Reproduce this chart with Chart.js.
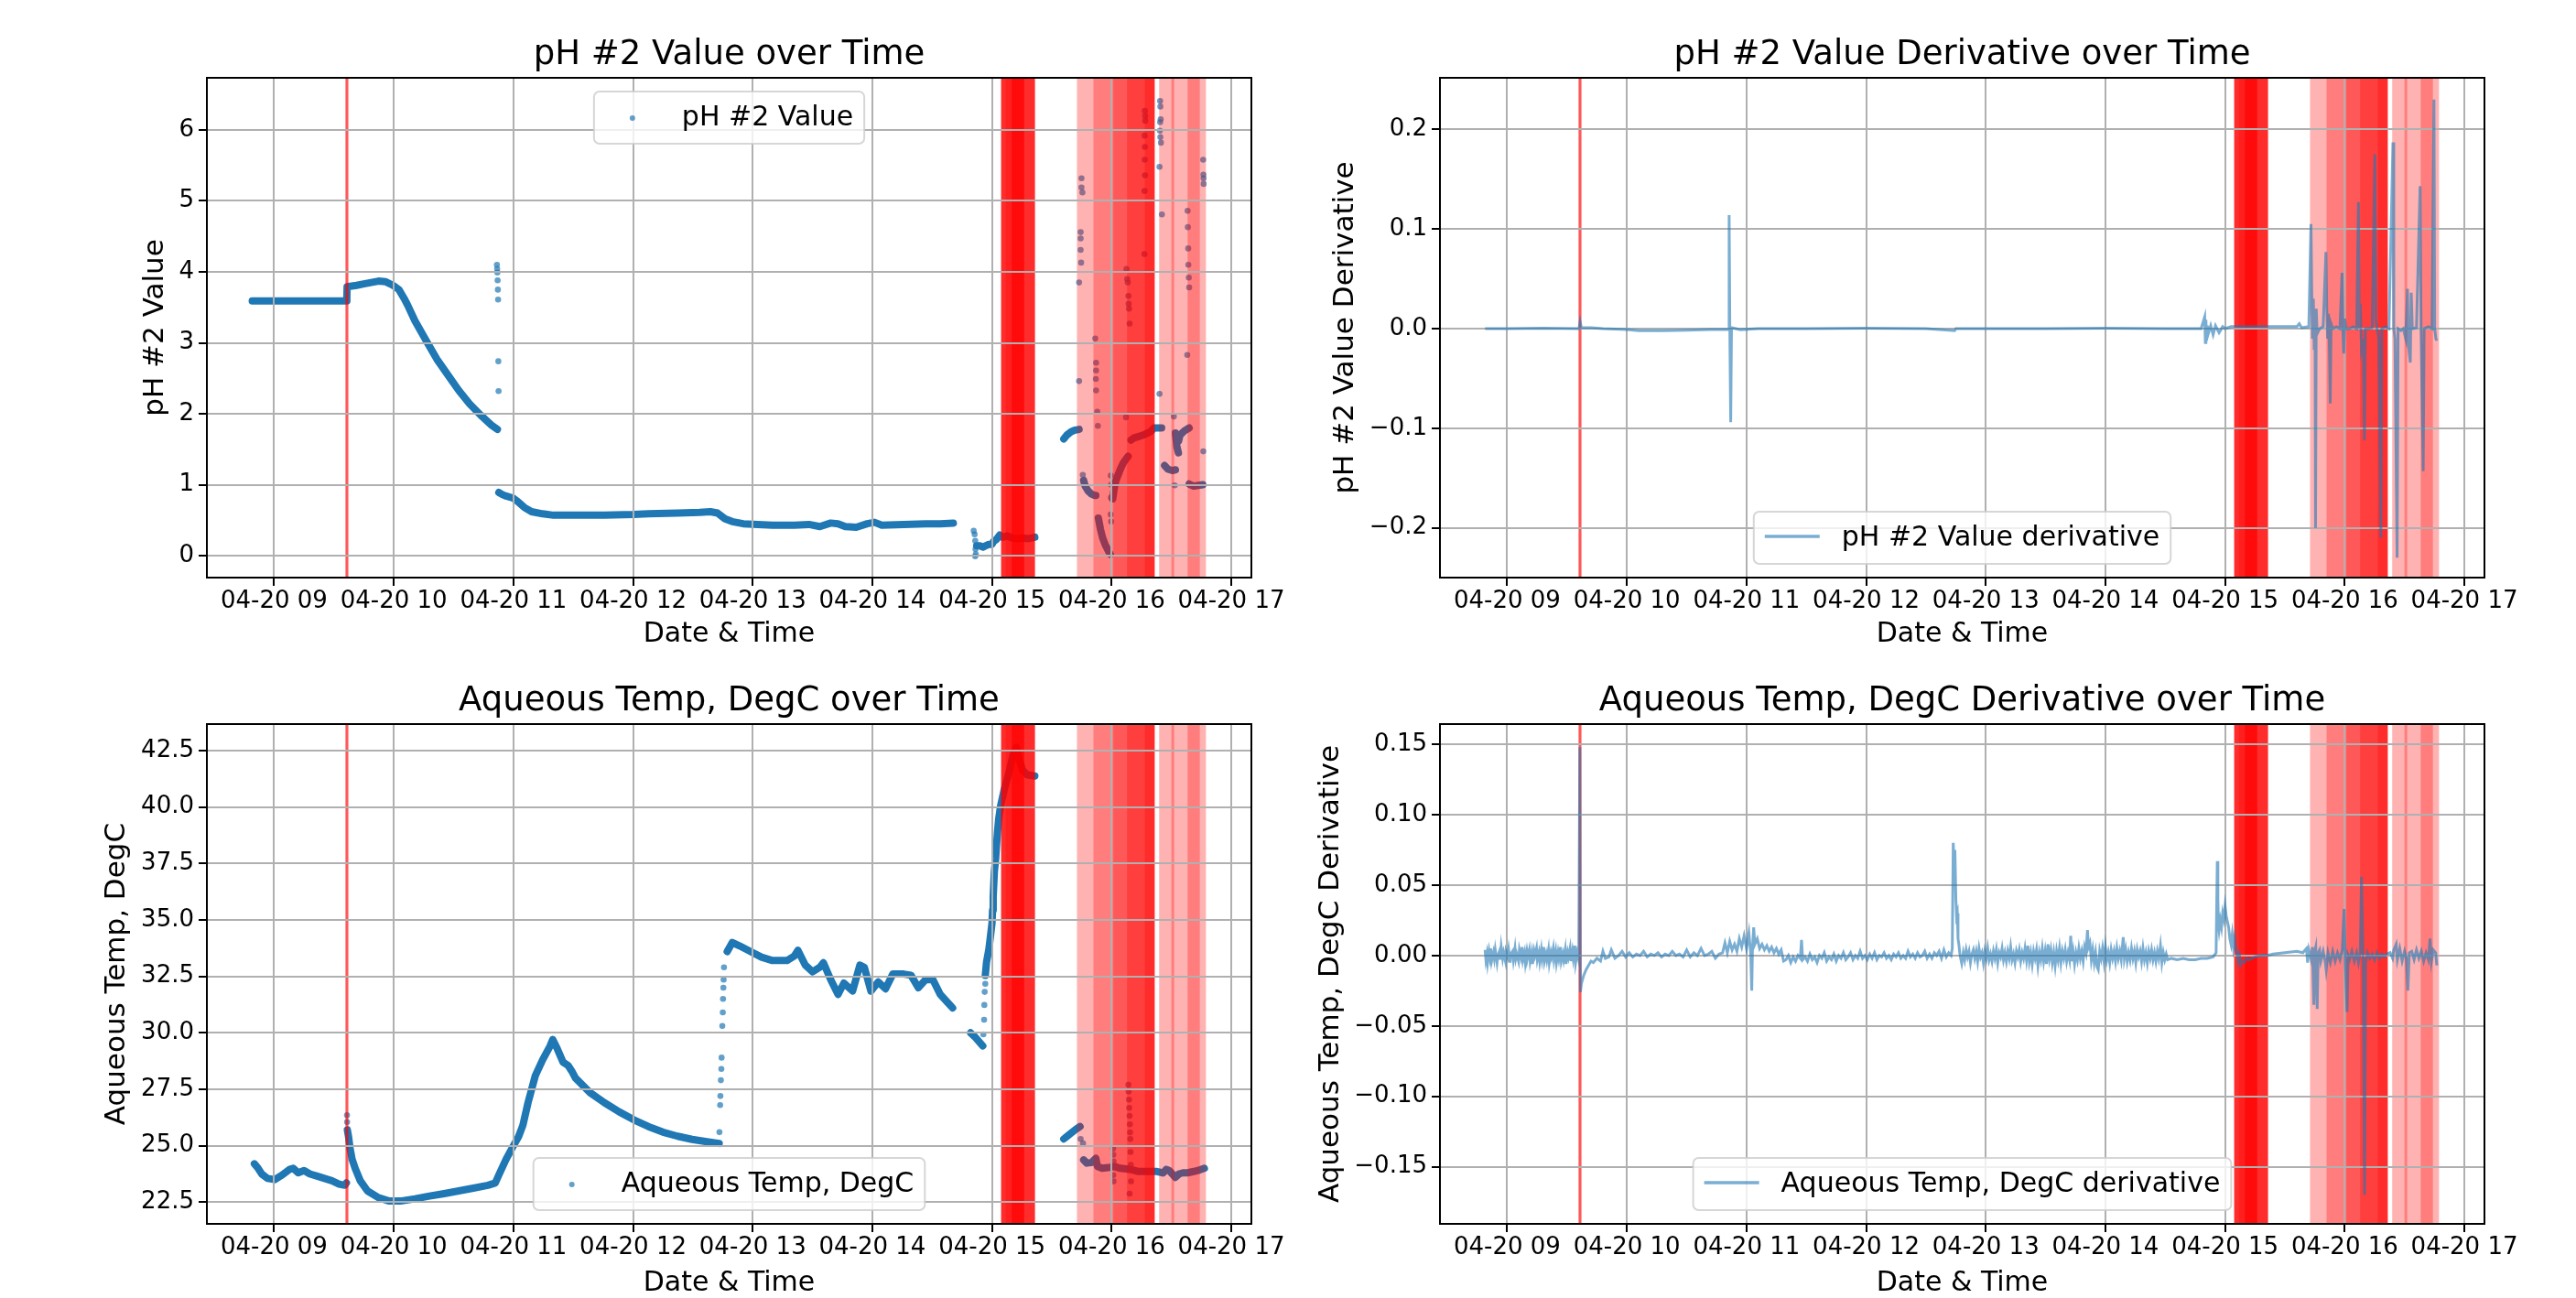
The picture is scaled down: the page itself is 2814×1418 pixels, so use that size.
<!DOCTYPE html>
<html><head><meta charset="utf-8">
<script src="https://cdn.jsdelivr.net/npm/chart.js@4.4.1/dist/chart.umd.min.js"></script>
<style>
html,body{margin:0;padding:0;background:#fff;overflow:hidden;width:2814px;height:1418px;}
canvas{position:absolute;}
</style></head><body>
<canvas id="c1"></canvas><canvas id="c2"></canvas><canvas id="c3"></canvas><canvas id="c4"></canvas>
<script>
// ---------- axis ranges & ticks (hours of 04-20) ----------
const xMin = 8.438, xMax = 17.168;
const xTickHours = [9, 10, 11, 12, 13, 14, 15, 16, 17];
const xTickLabels = ['04-20 09','04-20 10','04-20 11','04-20 12','04-20 13','04-20 14','04-20 15','04-20 16','04-20 17'];
const phTicks = [0, 1, 2, 3, 4, 5, 6];
const phTickLabels = ['0','1','2','3','4','5','6'];
const phDerivTicks = [-0.2, -0.1, 0, 0.1, 0.2];
const phDerivTickLabels = ['\u22120.2','\u22120.1','0.0','0.1','0.2'];
const tempTicks = [22.5, 25, 27.5, 30, 32.5, 35, 37.5, 40, 42.5];
const tempTickLabels = ['22.5','25.0','27.5','30.0','32.5','35.0','37.5','40.0','42.5'];
const tempDerivTicks = [-0.15, -0.1, -0.05, 0, 0.05, 0.1, 0.15];
const tempDerivTickLabels = ['\u22120.15','\u22120.10','\u22120.05','0.00','0.05','0.10','0.15'];

// ---------- anomaly spans [start hour, end hour] ----------
const anomalySpans = [
  [9.606, 9.609], [9.607, 9.610], [9.608, 9.611],
  [15.077, 15.358], [15.077, 15.358], [15.077, 15.358], [15.077, 15.358], [15.077, 15.358],
  [15.115, 15.268], [15.166, 15.268], [15.166, 15.268], [15.166, 15.268],
  [15.710, 16.359], [15.848, 16.359], [16.014, 16.359], [16.129, 16.359], [16.277, 16.359],
  [16.397, 16.788], [16.502, 16.520], [16.635, 16.737]
];

// ---------- pH #2 value: dense runs (null = break) and isolated points ----------
const phBand = [
  [8.817,3.59],[9.0,3.59],[9.2,3.59],[9.4,3.59],[9.605,3.59],[9.608,3.65],[9.61,3.79],[9.689,3.81],[9.75,3.83],[9.811,3.85],[9.872,3.87],[9.933,3.86],
  [9.994,3.81],[10.043,3.75],[10.085,3.63],[10.116,3.53],[10.177,3.31],[10.268,3.04],[10.36,2.77],[10.451,2.55],[10.543,2.33],[10.634,2.14],
  [10.726,1.98],[10.817,1.84],[10.866,1.78],
  null,
  [10.878,0.89],[10.909,0.86],[10.939,0.84],[11.0,0.81],[11.03,0.77],[11.091,0.68],[11.152,0.62],[11.244,0.59],[11.335,0.57],[11.518,0.57],
  [11.762,0.57],[12.006,0.58],[12.128,0.59],[12.372,0.60],[12.555,0.61],[12.646,0.62],[12.707,0.60],[12.768,0.52],[12.829,0.48],[12.921,0.45],
  [13.165,0.43],[13.348,0.43],[13.47,0.44],[13.561,0.41],[13.652,0.46],[13.713,0.45],[13.774,0.41],[13.866,0.40],[13.957,0.45],[14.018,0.47],
  [14.079,0.43],[14.262,0.44],[14.445,0.45],[14.567,0.45],[14.677,0.46],
  null,
  [14.872,0.14],[14.898,0.14],[14.923,0.12],[14.949,0.14],[14.974,0.16],[15.0,0.16],[15.013,0.20],[15.038,0.23],[15.064,0.29],[15.089,0.26],
  [15.128,0.28],[15.166,0.25],[15.204,0.24],[15.255,0.25],[15.307,0.24],[15.358,0.26],
  null,
  [15.600,1.645],[15.626,1.70],[15.664,1.75],[15.695,1.77],[15.728,1.78],
  null,
  [15.766,1.06],[15.779,0.98],[15.805,0.91],[15.83,0.87],[15.856,0.85],[15.868,0.85],
  null,
  [15.889,0.53],[15.907,0.37],[15.925,0.25],[15.945,0.16],[15.971,0.07],[15.989,0.02],
  null,
  [16.009,0.80],[16.022,0.95],[16.034,1.05],[16.052,1.13],[16.073,1.22],[16.098,1.31],[16.124,1.37],[16.137,1.40],
  null,
  [16.162,1.63],[16.188,1.66],[16.226,1.68],[16.264,1.70],[16.303,1.73],[16.328,1.75],[16.354,1.80],[16.392,1.80],[16.418,1.80],
  null,
  [16.443,1.27],[16.469,1.22],[16.507,1.20],[16.533,1.21],
  null,
  [16.533,1.73],[16.545,1.54],[16.558,1.45],
  null,
  [16.56,1.62],[16.571,1.70],[16.609,1.76],[16.648,1.80],
  null,
  [16.648,1.01],[16.686,0.98],[16.724,0.99],[16.762,1.00]
];
const phDots = [
  [10.862,4.10],[10.864,4.04],[10.866,3.99],[10.868,3.88],[10.870,3.75],[10.872,3.61],[10.874,2.74],[10.876,2.32],
  [14.847,0.35],[14.855,0.30],[14.86,0.21],[14.862,0.09],[14.865,0.02],[14.86,-0.01],
  [15.748,5.32],[15.748,5.19],[15.756,5.12],[15.741,4.56],[15.741,4.47],[15.741,4.31],[15.745,4.13],[15.728,3.85],[15.728,2.46],[15.759,1.14],
  [15.863,3.06],[15.87,2.72],[15.87,2.61],[15.868,2.49],[15.87,2.33],[15.88,2.03],[15.885,1.83],
  [15.993,1.13],[15.995,1.00],[15.994,0.82],[15.992,0.58],[15.996,0.48],
  [16.124,4.04],[16.13,3.90],[16.135,3.85],[16.14,3.66],[16.142,3.55],[16.145,3.48],[16.15,3.27],[16.12,1.95],
  [16.277,6.27],[16.28,6.20],[16.281,6.13],[16.276,5.92],[16.278,5.76],[16.277,5.58],[16.279,5.36],[16.275,5.14],[16.274,4.25],
  [16.405,6.41],[16.407,6.33],[16.41,6.15],[16.405,6.11],[16.403,5.99],[16.407,5.90],[16.412,5.82],[16.40,5.48],[16.42,4.81],[16.40,2.28],
  [16.52,1.96],[16.527,0.99],
  [16.635,4.86],[16.637,4.63],[16.64,4.33],[16.641,4.10],[16.645,3.92],[16.648,3.78],[16.632,2.83],
  [16.765,5.58],[16.767,5.37],[16.768,5.32],[16.769,5.24],[16.766,1.47]
];

// ---------- Aqueous Temp, DegC ----------
const tempBand = [
  [8.835,24.2],[8.866,24.0],[8.896,23.75],[8.945,23.55],[9.006,23.5],[9.067,23.7],[9.128,23.95],[9.159,24.0],[9.201,23.8],[9.25,23.9],
  [9.299,23.75],[9.36,23.65],[9.421,23.55],[9.482,23.45],[9.543,23.3],[9.591,23.25],[9.604,23.35],
  null,
  [9.612,25.7],[9.622,25.4],[9.634,24.9],[9.652,24.4],[9.677,24.0],[9.72,23.45],[9.78,23.0],[9.872,22.7],[9.963,22.55],[10.055,22.55],
  [10.177,22.65],[10.299,22.77],[10.421,22.88],[10.543,23.0],[10.665,23.12],[10.787,23.25],[10.848,23.35],[10.878,23.7],[10.939,24.4],
  [11.0,25.0],[11.043,25.4],[11.079,25.9],[11.122,26.9],[11.183,28.1],[11.244,28.8],[11.305,29.4],[11.329,29.7],[11.366,29.3],[11.415,28.7],
  [11.457,28.55],[11.488,28.3],[11.518,28.0],[11.64,27.35],[11.762,26.9],[11.884,26.5],[12.006,26.15],[12.128,25.85],[12.25,25.6],
  [12.372,25.42],[12.494,25.28],[12.616,25.18],[12.72,25.1],
  null,
  [12.787,33.6],[12.829,34.0],[12.89,33.85],[12.982,33.6],[13.073,33.35],[13.165,33.2],[13.287,33.2],[13.348,33.4],[13.378,33.65],[13.439,33.0],
  [13.5,32.7],[13.561,32.9],[13.591,33.1],[13.652,32.35],[13.713,31.7],[13.762,32.2],[13.835,31.85],[13.896,33.0],[13.933,32.9],[13.988,31.85],
  [14.049,32.25],[14.11,31.95],[14.171,32.6],[14.262,32.6],[14.323,32.55],[14.384,32.0],[14.445,32.35],[14.506,32.35],[14.567,31.7],
  [14.628,31.35],[14.671,31.1],
  null,
  [14.821,30.0],[14.86,29.8],[14.898,29.57],[14.923,29.42],
  null,
  [14.944,32.54],[14.954,33.12],[14.974,33.7],[14.987,34.27],[15.0,34.85],[15.005,35.43],[15.01,36.0],[15.015,36.58],[15.02,37.15],[15.031,37.73],
  [15.038,38.31],[15.046,38.89],[15.056,39.47],[15.072,40.05],[15.102,40.77],[15.14,41.49],[15.179,42.36],[15.204,42.64],[15.23,42.07],
  [15.255,41.63],[15.294,41.42],[15.358,41.37],
  null,
  [15.6,25.3],[15.651,25.52],[15.702,25.73],[15.736,25.85],
  null,
  [15.766,24.37],[15.792,24.23],[15.83,24.25],[15.868,24.44],[15.881,24.08],[15.92,24.0],[15.971,24.03],[16.022,24.08],[16.073,24.0],
  [16.124,23.97],[16.175,23.93],[16.226,23.86],[16.328,23.86],[16.379,23.86],[16.43,23.79],[16.456,23.95],[16.481,23.9],[16.533,23.6],
  [16.563,23.75],[16.596,23.8],[16.635,23.8],[16.686,23.86],[16.737,23.93],[16.775,24.0]
];
const tempDots = [
  [9.609,26.35],[9.61,26.05],
  [12.722,25.6],[12.728,26.8],[12.73,27.2],[12.734,27.9],[12.738,28.4],[12.74,28.9],[12.746,30.3],[12.75,30.9],[12.752,31.5],[12.755,32.0],[12.757,32.35],[12.76,32.9],
  [14.928,29.93],[14.934,30.58],[14.936,31.23],[14.939,31.81],[14.944,32.17],
  [15.741,25.3],[15.761,25.1],
  [16.012,24.87],[16.014,24.6],[16.016,24.3],[16.014,23.7],[16.016,23.42],
  [16.14,27.7],[16.142,27.4],[16.145,27.04],[16.147,26.68],[16.15,26.32],[16.152,25.95],[16.154,25.59],[16.156,25.3],[16.158,24.72],[16.16,24.15],[16.162,23.42],[16.15,22.88]
];

// ---------- pH #2 Value derivative ----------
const phDeriv = [
  [8.815,0],[9.0,0],[9.3,0.0005],[9.6,0],[9.609,0.007],[9.62,0.001],[9.7,0.001],[9.8,0],[9.9,-0.0005],[10.0,-0.001],[10.1,-0.002],[10.3,-0.002],
  [10.5,-0.0015],[10.7,-0.001],[10.85,-0.001],[10.855,0.114],[10.862,-0.02],[10.868,-0.094],[10.875,0.001],[10.95,-0.001],[11.1,0],[11.5,0],
  [12.0,0.0005],[12.5,0],[12.74,-0.002],[12.75,0],[13.0,0],[13.5,0],[14.0,0.0005],[14.5,0],[14.8,0],[14.83,0.012],[14.835,-0.014],[14.84,0.009],
  [14.846,-0.012],[14.852,0.003],[14.86,-0.005],[14.88,0.003],[14.9,-0.006],[14.92,0.003],[14.95,-0.004],[14.98,0.002],[15.0,0],[15.05,0.002],
  [15.3,0.002],[15.6,0.002],[15.62,0.005],[15.64,0.001],[15.70,0.002],
  [15.718,0.105],[15.724,0.04],[15.73,-0.01],[15.738,0.03],[15.745,-0.02],[15.752,0.01],[15.756,-0.2],[15.762,0.02],[15.77,-0.005],[15.79,0],
  [15.82,0.002],[15.843,0.077],[15.85,0.02],[15.857,-0.01],[15.865,0.015],[15.872,-0.02],[15.879,-0.075],[15.886,0.005],[15.9,0],[15.93,0.002],
  [15.96,0],[15.978,0.056],[15.985,0],[15.992,-0.025],[16.0,0.01],[16.01,0],[16.04,0],[16.07,0.002],[16.1,0],[16.115,0.127],[16.122,0],
  [16.13,0.025],[16.14,-0.02],[16.155,-0.01],[16.165,-0.112],[16.172,0],[16.2,0],[16.23,0.001],[16.252,0.175],[16.26,0.01],[16.27,0],
  [16.285,-0.01],[16.302,-0.21],[16.31,0],[16.34,0.002],[16.37,0],[16.403,0.187],[16.41,0],[16.42,-0.01],[16.438,-0.23],[16.446,0],
  [16.47,-0.002],[16.49,0],[16.51,-0.01],[16.525,0.04],[16.533,-0.017],[16.548,-0.034],[16.556,0.036],[16.565,0],[16.6,0.001],[16.63,0.143],
  [16.638,0],[16.656,-0.143],[16.664,0],[16.7,0.002],[16.73,0],[16.746,0.23],[16.752,0],[16.762,-0.01],[16.77,-0.012]
];

// ---------- Aqueous Temp, DegC derivative ----------
const tempDeriv = [
  [8.815,0.004],[8.822,-0.003],[8.83,0.001],[8.836,-0.005],[8.848,0.003],[8.855,-0.001],[8.862,0.005],[8.87,-0.004],[8.885,0.002],[8.892,-0.002],
  [8.9,0.004],[8.915,-0.005],[8.922,0.0],[8.935,0.003],[8.942,-0.003],[8.95,0.006],[8.962,-0.002],[8.97,0.002],[8.985,-0.004],[8.99,0.003],
  [9.005,-0.001],[9.012,0.004],[9.025,-0.005],[9.03,0.001],[9.045,0.003],[9.052,-0.003],[9.065,0.005],[9.072,-0.002],[9.08,0.001],[9.095,-0.004],
  [9.102,0.004],[9.115,-0.001],[9.125,0.006],[9.132,-0.003],[9.145,0.002],[9.152,-0.005],[9.165,0.003],[9.172,-0.001],[9.185,0.004],[9.192,-0.004],
  [9.205,0.002],[9.212,-0.006],[9.225,0.003],[9.232,0.0],[9.245,0.005],[9.252,-0.003],[9.265,0.002],[9.272,-0.004],[9.285,0.004],[9.292,-0.002],
  [9.305,0.006],[9.312,-0.004],[9.325,0.001],[9.332,-0.003],[9.345,0.004],[9.352,-0.005],[9.365,0.002],[9.372,-0.001],[9.385,0.005],[9.392,-0.003],
  [9.405,0.003],[9.412,-0.005],[9.425,0.002],[9.432,-0.002],[9.445,0.006],[9.452,-0.004],[9.465,0.001],[9.472,-0.003],[9.485,0.004],[9.492,-0.006],
  [9.505,0.002],[9.512,-0.001],[9.525,0.005],[9.532,-0.004],[9.545,0.003],[9.552,-0.002],[9.565,0.007],[9.572,-0.005],[9.585,0.002],[9.598,-0.003],
  [9.607,0.148],[9.612,-0.026],[9.62,-0.02],[9.64,-0.014],[9.66,-0.01],[9.68,-0.007],[9.7,-0.004],[9.72,-0.005],[9.75,-0.002],
  [9.78,-0.004],[9.8,0.003],[9.82,-0.002],[9.85,-0.001],[9.87,0.004],[9.9,-0.002],[9.93,0],[9.96,0.003],[9.99,-0.001],[10.02,0.002],
  [10.05,-0.001],[10.08,0.001],[10.11,0],[10.14,0.003],[10.17,-0.001],[10.2,0.001],[10.23,0],[10.26,0.002],[10.29,-0.001],[10.32,0.001],
  [10.35,0],[10.38,0.003],[10.41,0],[10.44,0.001],[10.47,-0.001],[10.5,0.004],[10.53,-0.001],[10.56,0.002],[10.59,0],[10.62,0.005],
  [10.65,0],[10.68,0.001],[10.71,0.003],[10.74,-0.002],[10.77,0.001],[10.8,0.002],
  [10.82,0.009],[10.84,0.002],[10.86,0.01],[10.88,0.004],[10.9,0.008],[10.92,0.003],[10.94,0.012],[10.96,0.006],[10.98,0.014],[11.0,0.005],
  [11.02,0.016],[11.035,0.002],[11.044,-0.025],[11.05,0.005],[11.06,0.02],[11.07,0.008],[11.09,0.012],[11.11,0.005],[11.13,0.008],[11.15,0.004],
  [11.17,0.007],[11.19,0.003],[11.21,0.006],[11.23,0.002],[11.25,0.005],[11.27,0.001],[11.29,0.004],[11.31,-0.004],
  [11.33,-0.003],[11.35,0],[11.37,-0.005],[11.39,-0.001],[11.41,-0.004],[11.43,0],[11.45,-0.002],[11.46,0.011],[11.47,-0.003],[11.49,-0.001],
  [11.51,-0.004],[11.53,0.001],[11.55,-0.003],[11.57,-0.001],[11.59,-0.005],[11.61,0],[11.63,-0.002],[11.65,0.002],[11.67,-0.004],[11.69,-0.001],
  [11.71,-0.003],[11.73,0.001],[11.75,-0.004],[11.77,0],[11.79,-0.002],[11.81,0.002],[11.83,-0.003],[11.85,-0.001],[11.87,0.002],[11.89,-0.003],
  [11.91,0],[11.93,-0.002],[11.95,0.003],[11.97,-0.002],[11.99,0],[12.01,-0.003],[12.03,0.001],[12.05,-0.002],[12.07,0.002],[12.09,-0.003],
  [12.11,0],[12.13,-0.001],[12.15,0.002],[12.17,-0.002],[12.19,0],[12.21,-0.003],[12.23,0.001],[12.25,-0.001],[12.27,0.002],[12.29,-0.002],
  [12.31,0],[12.33,-0.002],[12.35,0.003],[12.37,-0.001],[12.39,0.001],[12.41,-0.002],[12.43,0.002],[12.45,-0.001],[12.47,0],[12.49,0.003],
  [12.51,-0.002],[12.53,0.001],[12.55,-0.002],[12.57,0.002],[12.59,0],[12.61,0.003],[12.63,-0.002],[12.65,0.004],[12.67,-0.001],[12.69,0.002],
  [12.71,0],[12.72,0.005],[12.728,0.08],[12.735,0.065],[12.742,0.075],[12.75,0.04],[12.756,0.028],[12.762,0.03],[12.768,0.012],[12.775,0.008],
  [12.785,0],[12.79,-0.002],[12.80,-0.005],[12.812,0.002],[12.824,-0.003],[12.836,0.004],[12.848,-0.001],[12.86,0.003],[12.872,-0.005],[12.884,0.001],
  [12.896,0.004],[12.908,-0.002],[12.92,0.003],[12.932,-0.004],[12.944,0.005],[12.956,-0.001],[12.968,0.002],[12.98,-0.005],[12.992,0.003],
  [13.004,-0.002],[13.016,0.005],[13.028,-0.003],[13.04,0.001],[13.052,-0.004],[13.064,0.003],[13.076,-0.002],[13.088,0.004],[13.1,-0.005],
  [13.112,0.002],[13.124,-0.001],[13.136,0.005],[13.148,-0.003],[13.16,0.002],[13.172,-0.004],[13.184,0.003],[13.196,-0.002],[13.208,0.006],
  [13.22,-0.003],[13.232,0.001],[13.244,-0.005],[13.256,0.003],[13.268,-0.001],[13.28,0.004],[13.292,-0.004],[13.304,0.002],[13.316,-0.002],
  [13.328,0.005],[13.34,-0.003],[13.352,0.007],[13.364,-0.004],[13.376,0.002],[13.388,-0.006],[13.4,0.003],[13.412,-0.002],[13.424,0.004],
  [13.436,-0.007],[13.448,0.002],[13.46,-0.003],[13.472,0.005],[13.484,-0.004],[13.496,0.003],[13.508,-0.006],[13.52,0.008],[13.532,-0.002],
  [13.544,0.004],[13.556,-0.005],[13.568,0.002],[13.58,-0.007],[13.592,0.003],[13.604,-0.003],[13.616,0.005],[13.628,-0.005],[13.64,0.003],
  [13.652,-0.002],[13.664,0.004],[13.676,-0.004],[13.688,0.002],[13.7,-0.003],[13.71,0.014],[13.718,-0.004],[13.73,0.003],[13.742,-0.006],
  [13.754,0.002],[13.766,-0.003],[13.778,0.005],[13.79,-0.002],[13.802,0.003],[13.814,-0.004],[13.826,0.006],[13.838,0.002],[13.85,0.018],
  [13.858,0.006],[13.87,0.009],[13.882,-0.003],[13.894,0.004],[13.906,-0.005],[13.918,0.002],[13.93,-0.008],[13.94,-0.01],[13.952,0.003],
  [13.964,-0.002],[13.976,0.005],[13.988,-0.004],[14.0,0.006],[14.012,-0.003],[14.024,0.002],[14.036,-0.005],[14.048,0.004],[14.06,-0.002],
  [14.072,0.003],[14.084,-0.004],[14.096,0.005],[14.108,-0.002],[14.12,0.003],[14.132,-0.003],[14.149,0.013],[14.158,-0.002],[14.17,0.004],
  [14.182,-0.004],[14.194,0.002],[14.206,-0.003],[14.218,0.005],[14.23,-0.002],[14.242,0.003],[14.254,-0.005],[14.266,0.004],[14.278,-0.001],
  [14.29,0.003],[14.302,-0.004],[14.314,0.005],[14.326,-0.003],[14.338,0.002],[14.35,-0.005],[14.362,0.003],[14.374,-0.002],[14.386,0.004],
  [14.398,-0.003],[14.41,0.002],[14.422,-0.004],[14.434,0.003],[14.446,-0.002],[14.46,0.007],[14.472,-0.005],[14.484,0.002],[14.496,-0.003],
  [14.508,0.001],[14.52,-0.003],[14.55,-0.002],[14.6,-0.003],[14.65,-0.002],[14.7,-0.003],[14.75,-0.003],[14.8,-0.002],[14.85,-0.002],[14.9,-0.001],[14.925,0.002],
  [14.935,0.067],[14.94,0.04],[14.945,0.022],[14.95,0.018],[14.96,0.025],[14.97,0.02],[14.98,0.03],[14.99,0.026],[15.0,0.035],[15.01,0.028],
  [15.02,0.024],[15.03,0.02],[15.04,0.012],[15.05,0.008],[15.06,0.015],[15.07,0.006],[15.08,0.012],[15.09,0.004],[15.1,0.002],[15.11,-0.004],
  [15.12,0],[15.13,-0.006],[15.14,-0.004],[15.16,-0.005],[15.18,-0.002],[15.2,-0.003],[15.25,-0.001],[15.3,0],[15.35,0],[15.4,0.001],
  [15.5,0.002],[15.6,0.003],[15.65,0.002],[15.68,0.005],[15.69,-0.005],[15.7,0.004],[15.72,-0.003],[15.73,0.006],[15.742,-0.035],[15.75,0.003],
  [15.758,0.006],[15.77,-0.038],[15.778,0.002],[15.79,0.004],[15.8,-0.004],[15.82,0.003],[15.84,-0.006],[15.845,-0.01],[15.86,0.002],[15.88,-0.005],
  [15.9,0.003],[15.92,-0.004],[15.94,0.002],[15.96,-0.003],[15.98,0.004],[15.995,0.033],[16.005,-0.005],[16.02,-0.04],[16.028,0],[16.04,-0.003],
  [16.06,0.003],[16.08,-0.004],[16.1,0.002],[16.115,-0.005],[16.13,0.003],[16.14,0.056],[16.155,-0.01],[16.166,-0.17],[16.174,-0.005],[16.19,0.002],
  [16.21,-0.002],[16.23,0.001],[16.25,-0.003],[16.27,0.002],[16.29,-0.002],[16.31,0.001],[16.33,-0.001],[16.35,0.001],[16.38,0.002],[16.4,-0.002],
  [16.41,0.004],[16.43,0.008],[16.44,-0.003],[16.46,0.005],[16.48,-0.004],[16.5,0.003],[16.515,-0.002],[16.528,-0.025],[16.54,0.002],[16.56,0.003],
  [16.58,-0.003],[16.6,0.004],[16.62,-0.002],[16.64,0.003],[16.66,-0.004],[16.68,0.002],[16.7,-0.003],[16.713,0.012],[16.725,-0.004],[16.74,0.004],
  [16.76,0.002],[16.77,-0.007]
];

// ---------- helpers ----------
Chart.defaults.font.family = "'DejaVu Sans', sans-serif";
Chart.defaults.color = '#000';
const BLUE = 'rgb(31,119,180)';
function toXY(arr) {
  const out = []; let lastX = xMin;
  for (const p of arr) {
    if (p) { out.push({x: p[0], y: p[1]}); lastX = p[0]; }
    else out.push({x: lastX, y: null});
  }
  return out;
}
function drawSpans(chart) {
  const {ctx, chartArea: a, scales: {x}} = chart;
  ctx.save();
  ctx.beginPath(); ctx.rect(a.left, a.top, a.right - a.left, a.bottom - a.top); ctx.clip();
  ctx.fillStyle = 'rgba(255,0,0,0.3)';
  for (const [s, e] of anomalySpans) {
    let x0 = x.getPixelForValue(s), x1 = x.getPixelForValue(e);
    if (x1 - x0 < 3) { const c = (x0 + x1) / 2; x0 = c - 1.5; x1 = c + 1.5; }
    ctx.fillRect(x0, a.top, x1 - x0, a.bottom - a.top);
  }
  ctx.restore();
}
const spanPlugin = {
  id: 'spans',
  beforeDraw(chart, args, o) { if (!o.front) drawSpans(chart); },
  afterDatasetsDraw(chart, args, o) { if (o.front) drawSpans(chart); }
};
const framePlugin = {
  id: 'frame',
  afterDraw(chart) {
    const {ctx, chartArea: a} = chart;
    ctx.save(); ctx.strokeStyle = '#000'; ctx.lineWidth = 2;
    ctx.strokeRect(a.left, a.top, a.right - a.left, a.bottom - a.top);
    ctx.restore();
  }
};
const legendPlugin = {
  id: 'mplLegend',
  afterDraw(chart, args, o) {
    const {ctx, chartArea: a} = chart;
    const label = chart.data.datasets[0].label;
    ctx.save();
    ctx.font = "30px 'DejaVu Sans'";
    const tw = ctx.measureText(label).width;
    const w = 12 + 60 + 24 + tw + 12, h = 57;
    const x0 = (a.left + a.right) / 2 - w / 2;
    const y0 = o.loc === 'upper' ? a.top + 15 : a.bottom - 15 - h;
    ctx.beginPath(); ctx.roundRect(x0, y0, w, h, 6);
    ctx.fillStyle = 'rgba(255,255,255,0.8)'; ctx.fill();
    ctx.strokeStyle = 'rgba(204,204,204,0.8)'; ctx.lineWidth = 2; ctx.stroke();
    if (o.marker === 'dot') {
      ctx.beginPath(); ctx.arc(x0 + 42, y0 + 29, 3, 0, Math.PI * 2);
      ctx.fillStyle = 'rgba(31,119,180,0.7)'; ctx.fill();
    } else {
      ctx.beginPath(); ctx.moveTo(x0 + 12, y0 + 27); ctx.lineTo(x0 + 72, y0 + 27);
      ctx.strokeStyle = 'rgba(31,119,180,0.6)'; ctx.lineWidth = 3.3; ctx.stroke();
    }
    ctx.fillStyle = '#000'; ctx.textBaseline = 'alphabetic'; ctx.textAlign = 'left';
    ctx.fillText(label, x0 + 96, y0 + 36.6);
    ctx.restore();
  }
};

function scatterSets(label, band, dots) {
  return [
    {label, data: toXY(band), showLine: true, borderColor: BLUE, borderWidth: 8, pointRadius: 0,
     borderCapStyle: 'round', borderJoinStyle: 'round', spanGaps: false},
    {label: label + ' points', data: toXY(dots), showLine: false, pointRadius: 3.3, pointHoverRadius: 0,
     pointBackgroundColor: 'rgba(31,119,180,0.7)', pointBorderWidth: 0}
  ];
}
function lineSets(label, arr) {
  return [{label, data: toXY(arr), showLine: true, borderColor: 'rgba(31,119,180,0.6)', borderWidth: 3,
           pointRadius: 0, spanGaps: false}];
}

const panels = [
  {id: 'c1', left: 0, top: 0, width: 1420, height: 712, yWidth: 226, padRight: 53, titleTop: 38.3, titleBottom: 2.3, xHeight: 81,
   title: 'pH #2 Value over Time', yTitle: 'pH #2 Value', yTitlePad: 151.4, yMin: -0.309, yMax: 6.735,
   yTicks: phTicks, yLabels: phTickLabels, loc: 'upper', marker: 'dot', front: true,
   datasets: scatterSets('pH #2 Value', phBand, phDots)},
  {id: 'c2', left: 1407, top: 0, width: 1407, height: 712, yWidth: 166, padRight: 100, titleTop: 38.3, titleBottom: 2.3, xHeight: 81,
   title: 'pH #2 Value Derivative over Time', yTitle: 'pH #2 Value Derivative', yTitlePad: 44.4, yMin: -0.2499, yMax: 0.2518,
   yTicks: phDerivTicks, yLabels: phDerivTickLabels, loc: 'lower', marker: 'line', front: false,
   datasets: lineSets('pH #2 Value derivative', phDeriv)},
  {id: 'c3', left: 0, top: 709, width: 1420, height: 712, yWidth: 226, padRight: 53, titleTop: 35.6, titleBottom: 2.0, xHeight: 84,
   title: 'Aqueous Temp, DegC over Time', yTitle: 'Aqueous Temp, DegC', yTitlePad: 108.9, yMin: 21.54, yMax: 43.67,
   yTicks: tempTicks, yLabels: tempTickLabels, loc: 'lower', marker: 'dot', front: true,
   datasets: scatterSets('Aqueous Temp, DegC', tempBand, tempDots)},
  {id: 'c4', left: 1407, top: 709, width: 1407, height: 712, yWidth: 166, padRight: 100, titleTop: 35.6, titleBottom: 2.0, xHeight: 84,
   title: 'Aqueous Temp, DegC Derivative over Time', yTitle: 'Aqueous Temp, DegC Derivative', yTitlePad: 28, yMin: -0.1906, yMax: 0.1644,
   yTicks: tempDerivTicks, yLabels: tempDerivTickLabels, loc: 'lower', marker: 'line', front: false,
   datasets: lineSets('Aqueous Temp, DegC derivative', tempDeriv)}
];

for (const p of panels) {
  const cv = document.getElementById(p.id);
  cv.width = p.width; cv.height = p.height;
  cv.style.left = p.left + 'px'; cv.style.top = p.top + 'px';
  cv.style.width = p.width + 'px'; cv.style.height = p.height + 'px';
  const gridZ = p.front ? 1 : -1;
  new Chart(cv, {
    type: 'line',
    data: {datasets: p.datasets},
    options: {
      responsive: false, animation: false, devicePixelRatio: 1,
      layout: {padding: {left: 0, right: p.padRight, top: 0, bottom: 0}},
      plugins: {
        legend: {display: false}, tooltip: {enabled: false},
        title: {display: true, text: p.title, color: '#000', fullSize: false,
                font: {size: 37, weight: 'normal'}, padding: {top: p.titleTop, bottom: p.titleBottom}},
        spans: {front: p.front},
        mplLegend: {loc: p.loc, marker: p.marker}
      },
      scales: {
        x: {
          type: 'linear', min: xMin, max: xMax,
          afterBuildTicks: s => { s.ticks = xTickHours.map(v => ({value: v})); },
          afterFit: s => { s.height = p.xHeight; },
          ticks: {font: {size: 26}, color: '#000', padding: 2, maxRotation: 0, minRotation: 0, autoSkip: false,
                  callback: v => xTickLabels[xTickHours.indexOf(v)]},
          grid: {color: '#b0b0b0', lineWidth: 2, tickColor: '#000', tickWidth: 2, tickLength: 9, z: gridZ},
          border: {display: false},
          title: {display: true, text: 'Date & Time', color: '#000', font: {size: 30}, padding: {top: 0, bottom: 1}}
        },
        y: {
          type: 'linear', min: p.yMin, max: p.yMax,
          afterBuildTicks: s => { s.ticks = p.yTicks.map(v => ({value: v})); },
          afterFit: s => { s.width = p.yWidth; },
          ticks: {font: {size: 26}, color: '#000', padding: 5, autoSkip: false,
                  callback: v => p.yLabels[p.yTicks.indexOf(v)]},
          grid: {color: '#b0b0b0', lineWidth: 2, tickColor: '#000', tickWidth: 2, tickLength: 9, z: gridZ},
          border: {display: false},
          title: {display: true, text: p.yTitle, color: '#000', font: {size: 31}, padding: {top: p.yTitlePad, bottom: 0}}
        }
      }
    },
    plugins: [spanPlugin, framePlugin, legendPlugin]
  });
}
</script>
</body></html>
